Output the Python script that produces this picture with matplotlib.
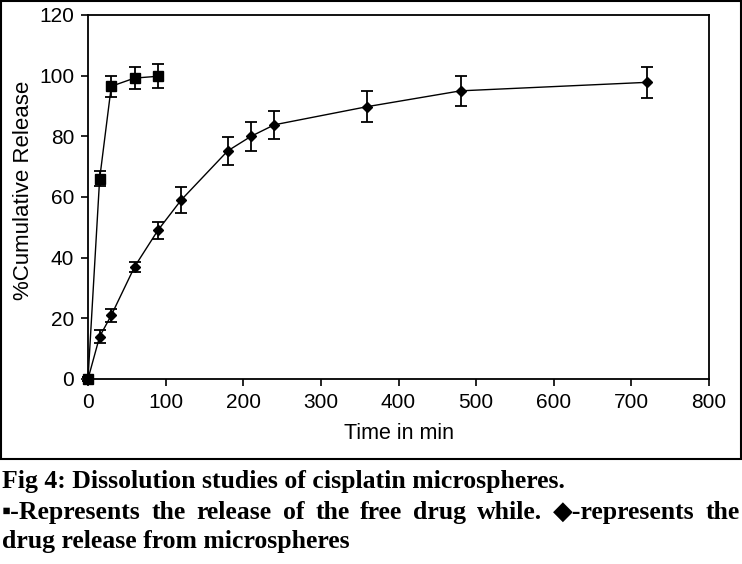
import matplotlib
matplotlib.use("Agg")
import matplotlib.pyplot as plt
from matplotlib.patches import Rectangle

# Data
free_time = [0, 15, 30, 60, 90]
free_release = [0, 66, 96.5, 99.2, 99.8]
free_err = [0.8, 2.5, 3.5, 3.5, 4.0]

micro_time = [0, 15, 30, 60, 90, 120, 180, 210, 240, 360, 480, 720]
micro_release = [0, 14, 21, 37, 49, 59, 75.2, 80, 83.8, 89.8, 95, 97.8]
micro_err = [0.5, 2.0, 2.2, 1.6, 2.8, 4.3, 4.5, 4.7, 4.7, 5.0, 5.0, 5.0]

xticks = [0, 100, 200, 300, 400, 500, 600, 700, 800]
yticks = [0, 20, 40, 60, 80, 100, 120]

W, H = 742, 564
fig = plt.figure(figsize=(W / 100, H / 100), dpi=100)
fig.patch.set_facecolor("white")

ax = fig.add_axes([88 / W, 1 - 379 / H, (709 - 88) / W, (379 - 15) / H])
sans = "Liberation Sans"
tfs = 15

ax.errorbar(micro_time, micro_release, yerr=micro_err, color="black", lw=1.0,
            marker="D", ms=5.5, mfc="black", mec="black", ecolor="black",
            elinewidth=1.3, capsize=4, capthick=1.3, zorder=3, clip_on=False)
ax.errorbar(free_time, free_release, yerr=free_err, color="black", lw=1.0,
            marker="s", ms=7.5, mfc="black", mec="black", ecolor="black",
            elinewidth=1.3, capsize=4, capthick=1.3, zorder=4, clip_on=False)

ax.set_xlim(0, 800)
ax.set_ylim(0, 120)
ax.set_xticks(xticks)
ax.set_yticks(yticks)
ax.set_xticklabels([str(v) for v in xticks], fontfamily=sans, fontsize=tfs)
ax.set_yticklabels([str(v) for v in yticks], fontfamily=sans, fontsize=tfs)
ax.tick_params(direction="out", length=5, width=1.2, pad=5)
for s in ax.spines.values():
    s.set_linewidth(1.3)
ax.set_xlabel("Time in min", fontfamily=sans, fontsize=tfs + 0.5, labelpad=8)
ax.set_ylabel("%Cumulative Release", fontfamily=sans, fontsize=16)
ax.yaxis.set_label_coords((34 - 88) / 621, (379 - 190) / 364)

# outer frame
fig.patches.append(Rectangle((1 / W, 1 - 459 / H), (740 / W), (458 / H),
                             transform=fig.transFigure, fill=False,
                             edgecolor="black", lw=1.5))

serif = ["Liberation Serif", "DejaVu Serif"]
fs = 18.5
fig.text(2 / W, 1 - 488 / H, "Fig 4: Dissolution studies of cisplatin microspheres.",
         fontfamily=serif, fontsize=fs, fontweight="bold", va="baseline", ha="left")

# justified line 2
line2 = "\u25aa-Represents the release of the free drug while. \u25c6-represents the"
words = line2.split(" ")
fig.canvas.draw()
r = fig.canvas.get_renderer()
tmp = []
widths = []
for w in words:
    t = fig.text(0, 0, w, fontfamily=serif, fontsize=fs, fontweight="bold")
    bb = t.get_window_extent(r)
    widths.append(bb.width)
    tmp.append(t)
for t in tmp:
    t.remove()
left, right = 2, 740
gap = (right - left - sum(widths)) / (len(words) - 1)
x = left
for w, wd in zip(words, widths):
    fig.text(x / W, 1 - 519 / H, w, fontfamily=serif, fontsize=fs,
             fontweight="bold", va="baseline", ha="left")
    x += wd + gap

fig.text(2 / W, 1 - 548 / H, "drug release from microspheres",
         fontfamily=serif, fontsize=fs, fontweight="bold", va="baseline", ha="left")

fig.savefig("out.png", dpi=100, facecolor="white")
